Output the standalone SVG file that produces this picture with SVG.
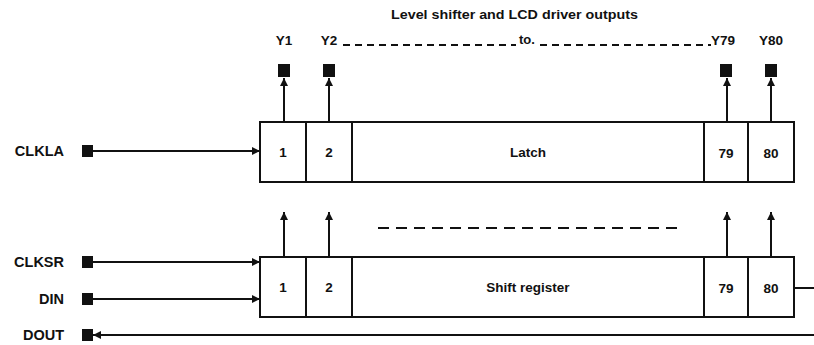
<svg xmlns="http://www.w3.org/2000/svg" width="814" height="345" viewBox="0 0 814 345">
<style>
text{font-family:"Liberation Sans",Arial,sans-serif;font-weight:bold;fill:#111}
.t{font-size:13px}
.lbl{font-size:14.5px;text-anchor:end}
.c{font-size:13.5px;text-anchor:middle}
.box{fill:#fff;stroke:#111;stroke-width:2}
.ln{stroke:#111;stroke-width:2;fill:none}
.dash{stroke:#111;stroke-width:1.8;fill:none}
.pin{fill:#111}
</style>
<defs>
<marker id="ah" viewBox="0 0 10 10" refX="10" refY="5" markerWidth="8" markerHeight="8" markerUnits="userSpaceOnUse" orient="auto">
<path d="M0,0 L10,5 L0,10 z" fill="#111"/>
</marker>
</defs>

<text class="t" x="391" y="19" textLength="247" lengthAdjust="spacingAndGlyphs">Level shifter and LCD driver outputs</text>

<g id="out-labels">
<text class="c" x="284" y="45">Y1</text>
<text class="c" x="329" y="45">Y2</text>
<text class="t" x="519" y="44">to.</text>
<text class="c" x="723" y="45">Y79</text>
<text class="c" x="771" y="45">Y80</text>
<path class="dash" d="M343,45 H516 M540,45 H711" stroke-dasharray="7,5"/>
</g>

<g id="out-pins">
<rect class="pin" x="278" y="64" width="12" height="13"/>
<rect class="pin" x="323" y="64" width="12" height="13"/>
<rect class="pin" x="720" y="64" width="12" height="13"/>
<rect class="pin" x="765" y="64" width="12" height="13"/>
</g>

<g id="latch">
<rect class="box" x="260" y="122" width="534" height="60"/>
<path class="ln" d="M306,122 V182 M352,122 V182 M704,122 V182 M748,122 V182"/>
<text class="c" x="283" y="157">1</text>
<text class="c" x="329" y="157">2</text>
<text class="c" x="528" y="157">Latch</text>
<text class="c" x="726" y="158">79</text>
<text class="c" x="771" y="158">80</text>
</g>

<g id="shift-register">
<rect class="box" x="260" y="257" width="534" height="60"/>
<path class="ln" d="M306,257 V317 M352,257 V317 M704,257 V317 M748,257 V317"/>
<text class="c" x="283" y="292">1</text>
<text class="c" x="329" y="292">2</text>
<text class="c" x="528" y="292">Shift register</text>
<text class="c" x="726" y="293">79</text>
<text class="c" x="771" y="293">80</text>
</g>

<g id="in-pins">
<text class="lbl" x="64" y="156">CLKLA</text>
<text class="lbl" x="64" y="267">CLKSR</text>
<text class="lbl" x="64" y="304">DIN</text>
<text class="lbl" x="64" y="340">DOUT</text>
<rect class="pin" x="82" y="145" width="11" height="12"/>
<rect class="pin" x="82" y="256" width="11" height="12"/>
<rect class="pin" x="82" y="293" width="11" height="12"/>
<rect class="pin" x="82" y="329" width="11" height="12"/>
</g>

<g id="connectors">
<path class="ln" d="M284,121 V78" marker-end="url(#ah)"/>
<path class="ln" d="M329,121 V78" marker-end="url(#ah)"/>
<path class="ln" d="M727,121 V78" marker-end="url(#ah)"/>
<path class="ln" d="M771,121 V78" marker-end="url(#ah)"/>
<path class="ln" d="M284,256 V212" marker-end="url(#ah)"/>
<path class="ln" d="M329,256 V212" marker-end="url(#ah)"/>
<path class="ln" d="M727,256 V212" marker-end="url(#ah)"/>
<path class="ln" d="M771,256 V212" marker-end="url(#ah)"/>
<path class="dash" d="M378,228 H678" stroke-dasharray="11,7"/>
<path class="ln" d="M93,151 H260" marker-end="url(#ah)"/>
<path class="ln" d="M93,262 H260" marker-end="url(#ah)"/>
<path class="ln" d="M93,299 H260" marker-end="url(#ah)"/>
<path class="ln" d="M794,288 H814"/>
<path class="ln" d="M814,335 H93" marker-end="url(#ah)"/>
</g>
</svg>
